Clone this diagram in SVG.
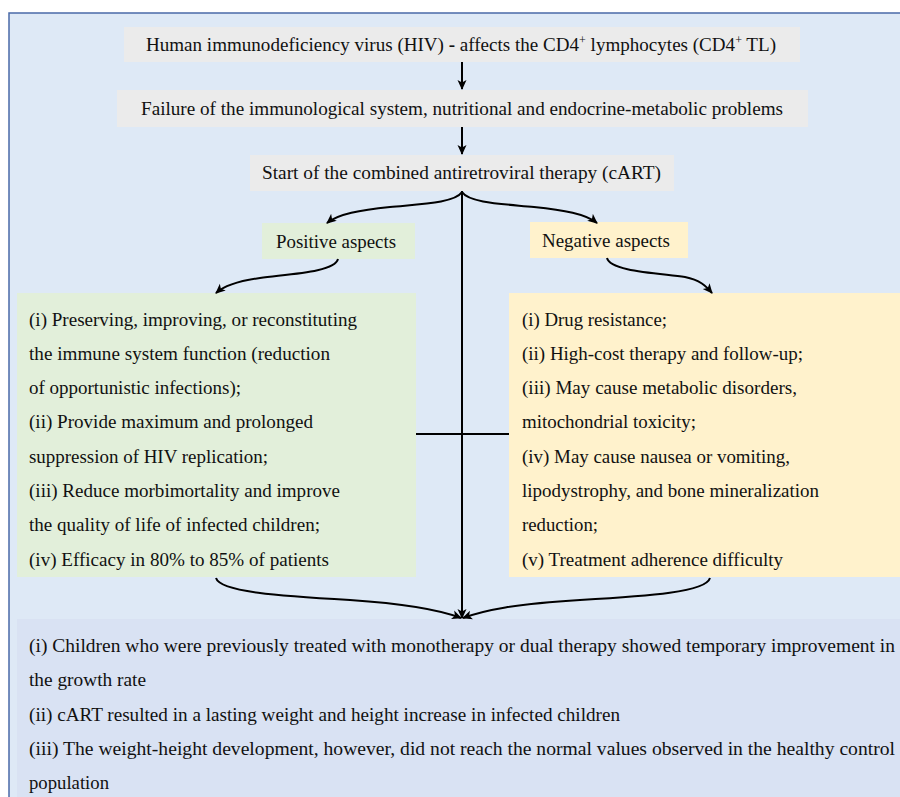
<svg xmlns="http://www.w3.org/2000/svg" width="900" height="797" viewBox="0 0 900 797" font-family="Liberation Serif, Times New Roman, DejaVu Serif, serif">
<style>
text{font-family:"Liberation Serif","Times New Roman","DejaVu Serif",serif;font-size:19px;fill:#111;}
.ln{fill:none;stroke:#000;stroke-width:2;}
.sup{font-size:12px;}
</style>
<defs>
<marker id="ah" viewBox="0 0 10 10" refX="9" refY="5" markerWidth="10" markerHeight="10" markerUnits="userSpaceOnUse" orient="auto">
<path d="M0,0.5 L10,5 L0,9.5 L2.5,5 Z" fill="#000"/>
</marker>
</defs>
<rect x="9" y="13" width="900" height="800" fill="#dee9f6" stroke="#4a6aa8" stroke-width="1.5"/>

<g id="hiv">
<rect x="124" y="27" width="676" height="35" fill="#ebebeb"/>
<text x="146" y="51" textLength="630" lengthAdjust="spacingAndGlyphs">Human immunodeficiency virus (HIV) <tspan font-weight="bold">-</tspan> affects the CD4<tspan class="sup" dy="-7">+</tspan><tspan dy="7"> lymphocytes (CD4</tspan><tspan class="sup" dy="-7">+</tspan><tspan dy="7"> TL)</tspan></text>
</g>
<g id="failure">
<rect x="117" y="90" width="691" height="37" fill="#ebebeb"/>
<text x="141" y="115" textLength="642" lengthAdjust="spacingAndGlyphs">Failure of the immunological system, nutritional and endocrine-metabolic problems</text>
</g>
<g id="cart">
<rect x="250" y="155" width="424" height="36" fill="#ebebeb"/>
<text x="262" y="179" textLength="399" lengthAdjust="spacingAndGlyphs">Start of the combined antiretroviral therapy (cART)</text>
</g>
<g id="positive">
<rect x="262" y="223" width="153" height="36" fill="#e2efda"/>
<text x="276" y="248" textLength="120" lengthAdjust="spacingAndGlyphs">Positive aspects</text>
</g>
<g id="negative">
<rect x="530" y="222" width="158" height="36" fill="#fff2cc"/>
<text x="542" y="247" textLength="128" lengthAdjust="spacingAndGlyphs">Negative aspects</text>
</g>
<g id="pos-list">
<rect x="17" y="293" width="399" height="284" fill="#e2efda"/>
<text x="29" y="326" textLength="328" lengthAdjust="spacingAndGlyphs">(i) Preserving, improving, or reconstituting</text>
<text x="29" y="360" textLength="301" lengthAdjust="spacingAndGlyphs">the immune system function (reduction</text>
<text x="29" y="394" textLength="212" lengthAdjust="spacingAndGlyphs">of opportunistic infections);</text>
<text x="29" y="428" textLength="284" lengthAdjust="spacingAndGlyphs">(ii) Provide maximum and prolonged</text>
<text x="29" y="463" textLength="239" lengthAdjust="spacingAndGlyphs">suppression of HIV replication;</text>
<text x="29" y="497" textLength="311" lengthAdjust="spacingAndGlyphs">(iii) Reduce morbimortality and improve</text>
<text x="29" y="531" textLength="291" lengthAdjust="spacingAndGlyphs">the quality of life of infected children;</text>
<text x="29" y="566" textLength="300" lengthAdjust="spacingAndGlyphs">(iv) Efficacy in 80% to 85% of patients</text>
</g>
<g id="neg-list">
<rect x="509" y="293" width="391" height="284" fill="#fff2cc"/>
<text x="522" y="326" textLength="145" lengthAdjust="spacingAndGlyphs">(i) Drug resistance;</text>
<text x="522" y="360" textLength="281" lengthAdjust="spacingAndGlyphs">(ii) High-cost therapy and follow-up;</text>
<text x="522" y="394" textLength="275" lengthAdjust="spacingAndGlyphs">(iii) May cause metabolic disorders,</text>
<text x="522" y="428" textLength="174" lengthAdjust="spacingAndGlyphs">mitochondrial toxicity;</text>
<text x="522" y="463" textLength="268" lengthAdjust="spacingAndGlyphs">(iv) May cause nausea or vomiting,</text>
<text x="522" y="497" textLength="297" lengthAdjust="spacingAndGlyphs">lipodystrophy, and bone mineralization</text>
<text x="522" y="531" textLength="76" lengthAdjust="spacingAndGlyphs">reduction;</text>
<text x="522" y="566" textLength="261" lengthAdjust="spacingAndGlyphs">(v) Treatment adherence difficulty</text>
</g>
<g id="outcomes">
<rect x="17" y="619" width="883" height="178" fill="#d9e2f3"/>
<text x="29" y="652" textLength="866" lengthAdjust="spacingAndGlyphs">(i) Children who were previously treated with monotherapy or dual therapy showed temporary improvement in</text>
<text x="29" y="686" textLength="117" lengthAdjust="spacingAndGlyphs">the growth rate</text>
<text x="29" y="721" textLength="591" lengthAdjust="spacingAndGlyphs">(ii) cART resulted in a lasting weight and height increase in infected children</text>
<text x="29" y="755" textLength="866" lengthAdjust="spacingAndGlyphs">(iii) The weight-height development, however, did not reach the normal values observed in the healthy control</text>
<text x="29" y="789" textLength="80" lengthAdjust="spacingAndGlyphs">population</text>
</g>
<g id="connectors">
<line class="ln" x1="462" y1="62" x2="462" y2="89" marker-end="url(#ah)"/>
<line class="ln" x1="462" y1="127" x2="462" y2="154" marker-end="url(#ah)"/>
<line class="ln" x1="462" y1="191" x2="462" y2="618" marker-end="url(#ah)"/>
<path class="ln" d="M462,192 C455,203 420,204 390,207 C360,210 338,214 327,223" marker-end="url(#ah)"/>
<path class="ln" d="M462,192 C469,203 504,204 534,207 C564,210 586,214 597,223" marker-end="url(#ah)"/>
<path class="ln" d="M338,259 C335,272 290,274 260,278 C238,281 224,286 216,293" marker-end="url(#ah)"/>
<path class="ln" d="M607,258 C610,271 655,273 685,277 C700,280 706,286 712,293" marker-end="url(#ah)"/>
<path class="ln" d="M216,578 C220,592 280,596 350,600 C410,604 440,610 461,618" marker-end="url(#ah)"/>
<path class="ln" d="M710,578 C706,592 650,596 580,600 C515,604 485,610 463,618" marker-end="url(#ah)"/>
<line class="ln" x1="416" y1="434" x2="509" y2="434"/>
</g>
</svg>
